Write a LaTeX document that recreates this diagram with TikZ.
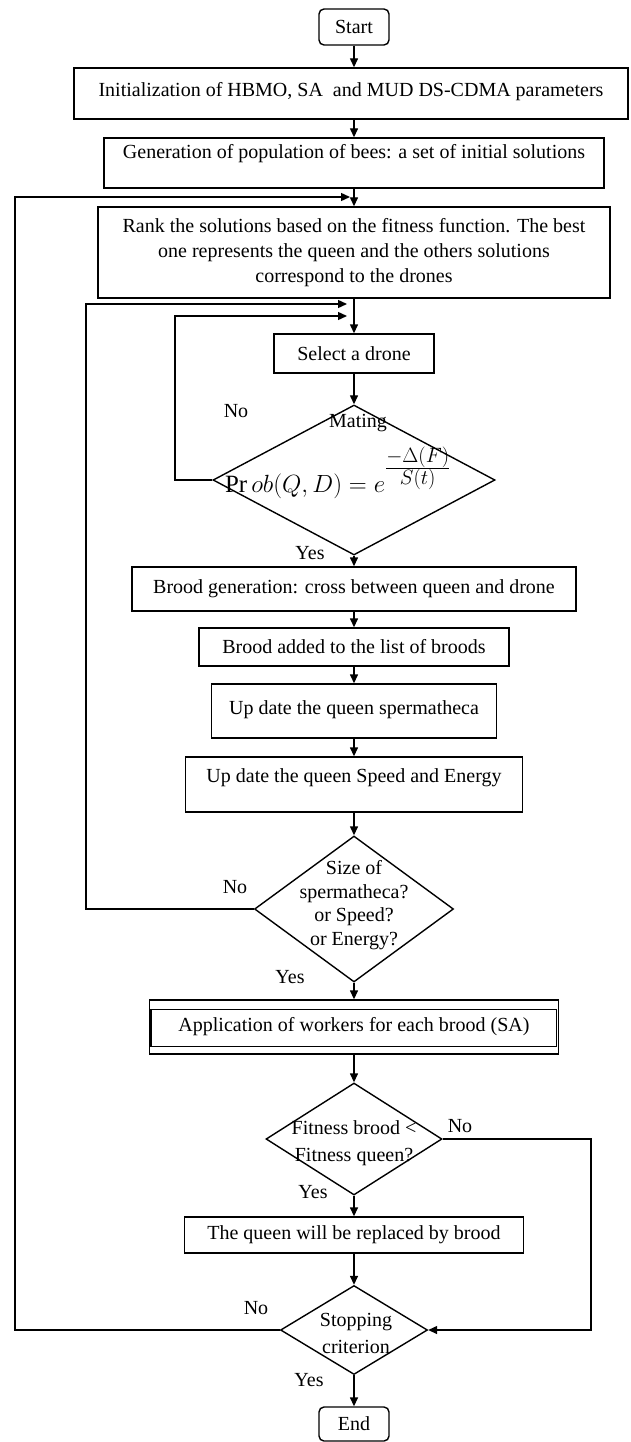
\documentclass[tikz,border=0pt]{standalone}
\usepackage{fontspec}
\setmainfont{Liberation Serif}
\usetikzlibrary{shapes.geometric,arrows.meta}

\begin{document}
\begin{tikzpicture}[x=1pt,y=-1pt,line width=1.4pt,font=\fontsize{20}{25}\selectfont,
  box/.style={draw,rectangle,inner sep=0pt},
  term/.style={box,rounded corners=5pt,minimum width=70pt,minimum height=36pt},
  decision/.style={draw,diamond,inner sep=0pt},
  arrow/.style={-{Triangle[length=9pt,width=8pt]}}]
  \useasboundingbox (0,0) rectangle (630,1442);
  % initialisation
  \node[term] (start) at (354,27) {Start};
  \node[box,minimum width=554pt,text height=29pt,text depth=22pt] (init) at (351,93.5) {Initialization of HBMO, SA\ \ and MUD DS-CDMA parameters};
  \node[box,minimum width=500pt,text height=21pt,text depth=29pt] (gen) at (354,163) {Generation of population of bees: a set of initial solutions};
  \node[box,align=center,minimum width=512pt,minimum height=91pt] (rank) at (354,252.5) {Rank the solutions based on the fitness function. The best\\one represents the queen and the others solutions\\correspond to the drones};
  % mating flight
  \node[box,minimum width=160pt,minimum height=39pt] (select) at (354,353.5) {Select a drone};
  \node[decision,minimum width=282pt,minimum height=150pt] (mating) at (354,480) {};
  \node (matingtxt) at (358,423) {Mating};
  \node[anchor=base west,font=\fontsize{24.88}{30}\selectfont] (prob) at (221,492) {$\Pr ob(Q,D)=e^{\frac{\scriptstyle -\Delta(F)}{\scriptstyle S(t)}}$};
  \node[box,minimum width=444pt,minimum height=44pt] (brood) at (354,589) {Brood generation: cross between queen and drone};
  \node[box,minimum width=310pt,minimum height=38pt] (added) at (354,647) {Brood added to the list of broods};
  \node[box,minimum width=285pt,text height=30pt,text depth=24pt] (sperm) at (354,711) {Up date the queen spermatheca};
  \node[box,minimum width=337pt,text height=25pt,text depth=30pt] (speed) at (354,784.5) {Up date the queen Speed and Energy};
  \node[decision,minimum width=199pt,minimum height=146pt] (size) at (354,909) {};
  \node[align=center,font=\fontsize{20}{23.5}\selectfont] (sizetxt) at (354,905) {Size of\\spermatheca?\\or Speed?\\or Energy?};
  % workers and replacement
  \node[box,minimum width=409pt,minimum height=54pt] (app) at (354,1027) {Application of workers for each brood (SA)};
  \draw ([shift={(2pt,-10pt)}]app.north west) rectangle ([shift={(-3pt,8pt)}]app.south east);
  \node[decision,minimum width=176pt,minimum height=112pt] (fit) at (354,1139) {};
  \node[align=center,font=\fontsize{20}{27}\selectfont] (fittxt) at (354,1143) {Fitness brood <\\Fitness queen?};
  \node[box,minimum width=339pt,minimum height=36pt] (rep) at (354,1235) {The queen will be replaced by brood};
  \node[decision,minimum width=147pt,minimum height=89pt] (stop) at (354,1330) {};
  \node[align=center,font=\fontsize{20}{27}\selectfont] (stoptxt) at (356,1333) {Stopping\\criterion};
  \node[term,minimum height=34pt] (end) at (354,1424) {End};
  % main flow
  \draw[arrow] (start) -- (start |- init.north);
  \draw[arrow] (init.south -| gen) -- (gen);
  \foreach \a/\b in {gen/rank,rank/select,select/mating,mating/brood,brood/added,added/sperm,
    sperm/speed,speed/size,size/app,app/fit,fit/rep,rep/stop,stop/end}
    \draw[arrow] (\a) -- (\b);
  % loops back
  \coordinate (j1) at (350,197);
  \coordinate (j2) at (347,304);
  \coordinate (j3) at (347,316);
  \draw[arrow] (stop.west) -| (15,197) -- (j1);
  \draw[arrow] (size.west) -| (86,304) -- (j2);
  \draw[arrow] (mating.west) -| (175,316) -- (j3);
  \draw[arrow] (fit.east) -| (591,1330) -- (stop.east);
  % answers
  \foreach \x/\y/\t [count=\i] in {236/411/No,310/553/Yes,235/887/No,290/977/Yes,
    460/1126/No,313/1192/Yes,256/1308/No,309/1380/Yes}
    \node (ans\i) at (\x,\y) {\t};
\end{tikzpicture}
\end{document}
